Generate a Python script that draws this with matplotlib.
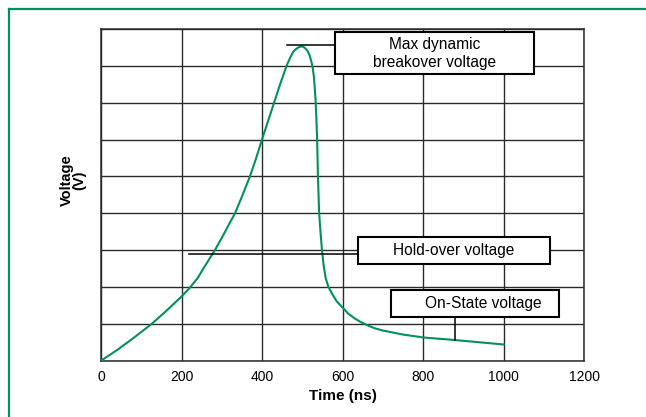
import matplotlib
matplotlib.use("Agg")
import matplotlib.pyplot as plt
from matplotlib.patches import Rectangle
from matplotlib.lines import Line2D

plt.rcParams['font.family'] = ['Liberation Sans', 'DejaVu Sans']

# Data
time_ns = [0, 40, 80, 126, 160, 200, 220, 240, 260, 283, 300, 320, 333, 350, 370, 385,
           400, 415, 430, 445, 461, 470, 478, 485, 492, 499, 505, 510, 515, 519, 523,
           526, 529, 531, 533, 535, 537, 539, 542, 546, 549, 553, 558, 565,
           575, 585, 602, 615, 630, 645, 660, 680, 700, 750, 801, 880, 940, 1000]
voltage = [0, 0.29, 0.61, 1.0, 1.33, 1.74, 1.97, 2.24, 2.6, 3.0, 3.33, 3.74, 4.0, 4.45, 5.0, 5.48,
           6.0, 6.5, 7.0, 7.5, 8.0, 8.22, 8.39, 8.46, 8.51, 8.53, 8.5, 8.45, 8.37, 8.26, 8.1,
           7.95, 7.7, 7.4, 7.1, 6.6, 6.0, 5.0, 4.0, 3.4, 3.0, 2.6, 2.25, 2.0,
           1.8, 1.62, 1.42, 1.27, 1.15, 1.05, 0.97, 0.88, 0.82, 0.71, 0.63, 0.56, 0.5, 0.44]

x_ticks = [0, 200, 400, 600, 800, 1000, 1200]
y_grid = [0, 1, 2, 3, 4, 5, 6, 7, 8, 9]

labels = ["Max dynamic\nbreakover voltage", "Hold-over voltage", "On-State voltage"]

GREEN = '#00915c'
GRID = '#2a2a2a'

fig = plt.figure(figsize=(6.46, 4.17), dpi=100)
ax = fig.add_axes([101/646, 1 - 360.7/417, (584-101)/646, (360.7-29)/417])

ax.set_xlim(0, 1200)
ax.set_ylim(0, 9)
ax.set_xticks(x_ticks)
ax.set_xticklabels([str(t) for t in x_ticks], fontsize=10)
ax.set_yticks(y_grid)
ax.set_yticklabels([])
ax.tick_params(axis='both', length=0, pad=7)
ax.grid(True, color=GRID, linewidth=1.0)
ax.set_axisbelow(True)
for s in ax.spines.values():
    s.set_color(GRID)
    s.set_linewidth(1.1)

ax.plot(time_ns, voltage, color=GREEN, linewidth=1.5, zorder=3)

ax.set_xlabel("Time (ns)", fontsize=11, fontweight='bold', labelpad=3)
fig.text(73/646, 1 - 180/417, "Voltage\n(V)", rotation=90, ha='center', va='center',
         fontsize=10.5, fontweight='bold', linespacing=0.9, multialignment='center')

def box(x0, x1, y0, y1):
    ax.add_patch(Rectangle((x0, y0), x1 - x0, y1 - y0, facecolor='white',
                           edgecolor='black', linewidth=1.5, zorder=5, clip_on=False))

# Max dynamic breakover voltage
ax.plot([461, 581], [8.56, 8.56], color='black', linewidth=1.1, zorder=4)
box(581, 1076, 7.77, 8.93)
ax.text(829, 8.34, labels[0], ha='center', va='center', fontsize=11.2, zorder=6,
        linespacing=1.2)

# Hold-over voltage
ax.plot([219, 638], [2.90, 2.90], color='black', linewidth=1.1, zorder=4)
box(638, 1115, 2.62, 3.35)
ax.text(876, 2.99, labels[1], ha='center', va='center', fontsize=11.2, zorder=6)

# On-State voltage
ax.plot([880, 880], [1.18, 0.56], color='black', linewidth=1.1, zorder=4)
box(720, 1138, 1.18, 1.91)
ax.text(951, 1.55, labels[2], ha='center', va='center', fontsize=11.2, zorder=6)

# Green open frame (top and left)
fig.add_artist(Line2D([9/646, 1.0], [1 - 9/417, 1 - 9/417], color=GREEN, linewidth=1.6,
                      transform=fig.transFigure))
fig.add_artist(Line2D([9/646, 9/646], [0.0, 1 - 9/417], color=GREEN, linewidth=1.6,
                      transform=fig.transFigure))

fig.savefig("out.png", dpi=100)
